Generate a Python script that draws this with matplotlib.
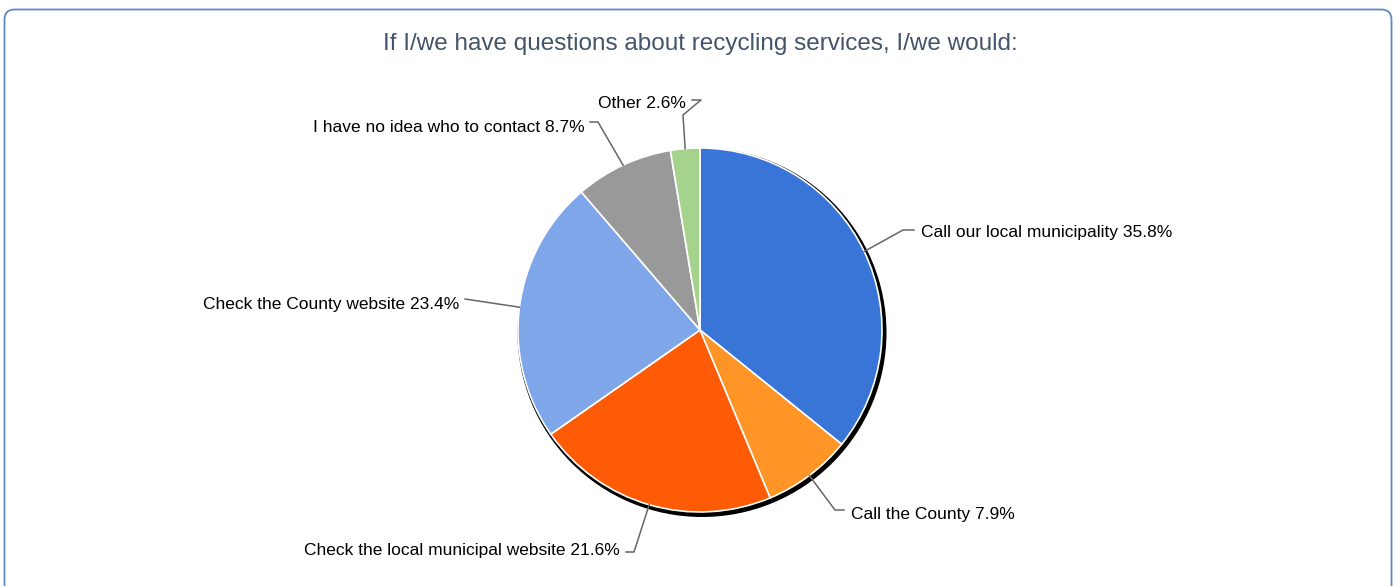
import numpy as np
import matplotlib.pyplot as plt
from matplotlib.patches import Circle, FancyBboxPatch

plt.rcParams['font.family'] = ['Liberation Sans', 'DejaVu Sans']

title = 'If I/we have questions about recycling services, I/we would:'
answers = ['Call our local municipality', 'Call the County',
           'Check the local municipal website', 'Check the County website',
           'I have no idea who to contact', 'Other']
shares = [35.8, 7.9, 21.6, 23.4, 8.7, 2.6]
colors = ['#3875d7', '#ff9526', '#ff5a05', '#7ea6e8', '#999999', '#a5d38e']

W, H = 1396, 586
cx, cy, R = 700, 330, 182

# label anchor (x, y, ha) and elbow points of the leader lines, in pixels from top-left
label_pos = [(921, 233, 'left'), (851, 515, 'left'), (620, 551, 'right'),
             (459, 304, 'right'), (585, 127, 'right'), (686, 103, 'right')]
elbows = [[(903, 230), (914, 230)],
          [(835, 510), (844, 510)],
          [(634, 552), (626, 552)],
          [(465, 299)],
          [(598, 122), (590, 122)],
          [(683, 115), (701, 100), (692, 100)]]


def fy(y):
    return H - y


fig = plt.figure(figsize=(W / 100, H / 100), dpi=100)
ax = fig.add_axes([0, 0, 1, 1])

# rounded frame around the chart
frame = FancyBboxPatch((4.5, fy(700)), W - 9, 700 - 9.5,
                       boxstyle='round,pad=0,rounding_size=10',
                       facecolor='white', edgecolor='#5f88c0', linewidth=1.3)
ax.add_patch(frame)

# dark rim behind the pie
ax.add_patch(Circle((cx + 2, fy(cy + 2.5)), R + 1.8, color='black', zorder=2))

wedges, _ = ax.pie(shares, colors=colors, startangle=90, counterclock=False,
                   center=(cx, fy(cy)), radius=R,
                   wedgeprops=dict(edgecolor='white', linewidth=1.2))
for w in wedges:
    w.set_zorder(3)

for w, name, val, (tx, ty, ha), pts in zip(wedges, answers, shares, label_pos, elbows):
    mid = np.deg2rad((w.theta1 + w.theta2) / 2)
    x0 = w.center[0] + w.r * np.cos(mid)
    y0 = w.center[1] + w.r * np.sin(mid)
    xs = [x0] + [p[0] for p in pts]
    ys = [y0] + [fy(p[1]) for p in pts]
    ax.plot(xs, ys, color='#666666', linewidth=1.1, zorder=4)
    ax.text(tx, fy(ty), f'{name} {val}%', ha=ha, va='center',
            fontsize=12.5, color='black')

ax.text(700, fy(44), title, ha='center', va='center', fontsize=17.5,
        color='#44546a')

ax.set_xlim(0, W)
ax.set_ylim(0, H)
ax.set_aspect('auto')
ax.axis('off')

fig.savefig('out.png', dpi=100)
